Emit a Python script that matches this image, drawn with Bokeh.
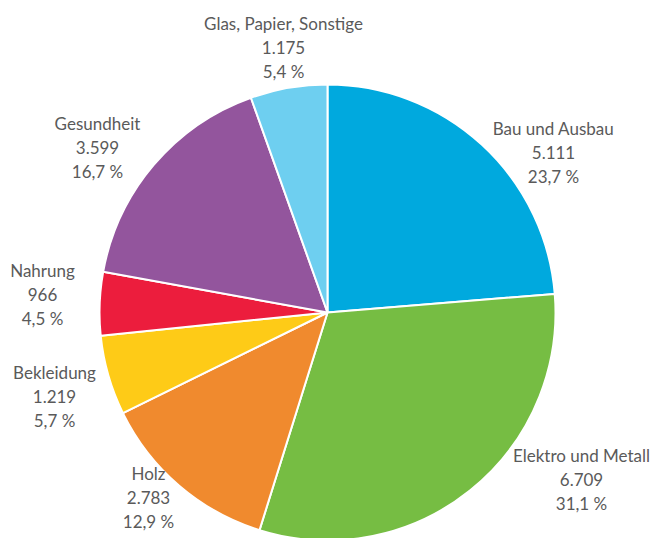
import math
from bokeh.plotting import figure
from bokeh.models import Range1d, ColumnDataSource
from bokeh.core.properties import value
from bokeh.embed import file_html
from bokeh.resources import INLINE

# ---- data ----
categories = ["Bau und Ausbau", "Elektro und Metall", "Holz", "Bekleidung",
              "Nahrung", "Gesundheit", "Glas, Papier, Sonstige"]
values = [5111, 6709, 2783, 1219, 966, 3599, 1175]
colors = ["#00A9DE", "#76BD43", "#F08A2E", "#FECB17", "#EC1D3D", "#93559D", "#6ECFF0"]

# ---- layout (pixel coordinates of label centres, middle line) ----
label_x = [553, 581, 148, 54, 42, 97, 283]
label_y = [152, 479, 497, 396, 294, 147, 47]
cx_img, cy_img, radius = 327, 312, 228

W, H = 653, 538
def to_y(img_y):
    return H - img_y

total = sum(values)
starts, ends = [], []
cum = 0.0
for v in values:
    starts.append(math.pi / 2 - 2 * math.pi * cum / total)
    cum += v
    ends.append(math.pi / 2 - 2 * math.pi * cum / total)

def fmt_int(v):
    return f"{v:,}".replace(",", ".")

def fmt_pct(v):
    return f"{100.0 * v / total:.1f}".replace(".", ",") + " %"

src = ColumnDataSource(dict(
    start=starts, end=ends, color=colors,
    x=[cx_img] * len(values), y=[to_y(cy_img)] * len(values),
))

p = figure(width=W, height=H, output_backend="svg", toolbar_location=None,
           x_range=Range1d(0, W), y_range=Range1d(0, H),
           min_border=0)
p.axis.visible = False
p.grid.visible = False
p.outline_line_color = None
p.background_fill_color = "white"
p.border_fill_color = "white"

p.wedge(x="x", y="y", radius=radius, start_angle="start", end_angle="end",
        direction="clock", fill_color="color", line_color="white", line_width=2,
        source=src)

lsrc = ColumnDataSource(dict(
    x=label_x, y=[to_y(v) for v in label_y],
    name=categories,
    num=[fmt_int(v) for v in values],
    pct=[fmt_pct(v) for v in values],
))
for col, off in (("name", -24), ("num", 0), ("pct", 24)):
    p.text(x="x", y="y", text=col, source=lsrc, y_offset=off,
           text_align="center", text_baseline="middle",
           text_font=value("Lato"), text_font_size="17px", text_color="#5a5a5a")

open("out.html", "w").write(file_html(p, INLINE))
